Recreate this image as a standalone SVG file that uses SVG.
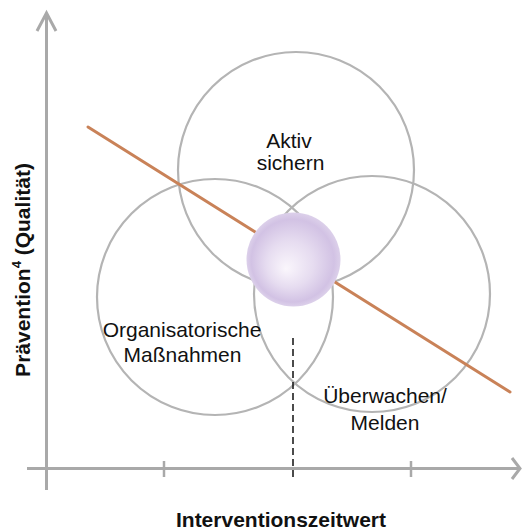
<svg xmlns="http://www.w3.org/2000/svg" width="524" height="530" viewBox="0 0 524 530">
  <defs>
    <radialGradient id="sph" cx="0.5" cy="0.5" r="0.5" fx="0.42" fy="0.6">
      <stop offset="0" stop-color="#faf6fc"/>
      <stop offset="0.5" stop-color="#e6dcf0"/>
      <stop offset="0.88" stop-color="#d2c2e4"/>
      <stop offset="1" stop-color="#dcd0ea"/>
    </radialGradient>
    <style>
      .axis { stroke: #a9a9a9; stroke-width: 3; fill: none; }
      .tick { stroke: #a9a9a9; stroke-width: 2.5; }
      .ring { fill: none; stroke: #b4b4b4; stroke-width: 2.2; }
      .lbl { font-family: "Liberation Sans", Arial, sans-serif; font-size: 21px; fill: #111; text-anchor: middle; }
      .ax { font-family: "Liberation Sans", Arial, sans-serif; font-size: 21px; font-weight: bold; fill: #111; text-anchor: middle; }
    </style>
  </defs>
  <rect width="524" height="530" fill="#ffffff"/>

  <g id="axes">
    <line class="axis" x1="46.5" y1="14" x2="46.5" y2="490"/>
    <polyline class="axis" points="37,31 46.5,13 56,31"/>
    <line class="axis" x1="27" y1="468.5" x2="519" y2="468.5"/>
    <polyline class="axis" points="512,458 520,468.5 512,479"/>
    <line class="tick" x1="164" y1="461" x2="164" y2="477"/>
    <line class="tick" x1="411" y1="461" x2="411" y2="477"/>
  </g>

  <g id="circles">
    <g id="circle-aktiv"><circle class="ring" cx="296" cy="170" r="118"/></g>
    <g id="circle-organisatorisch"><circle class="ring" cx="215" cy="297" r="118"/></g>
    <g id="circle-ueberwachen"><circle class="ring" cx="372" cy="294" r="118"/></g>
  </g>

  <g id="connectors">
    <line id="trend" x1="88" y1="127" x2="510" y2="392" stroke="#c98258" stroke-width="3" stroke-linecap="round"/>
    <line id="dashed" x1="293" y1="338" x2="293" y2="480" stroke="#111" stroke-width="1.5" stroke-dasharray="7,4"/>
  </g>

  <g id="sphere">
    <circle cx="293.5" cy="259.5" r="47" fill="url(#sph)"/>
  </g>

  <g id="label-aktiv">
    <text class="lbl" x="289" y="148">Aktiv</text>
    <text class="lbl" x="290.5" y="170">sichern</text>
  </g>
  <g id="label-organisatorisch">
    <text class="lbl" x="182" y="337">Organisatorische</text>
    <text class="lbl" x="182.5" y="362">Maßnahmen</text>
  </g>
  <g id="label-ueberwachen">
    <text class="lbl" x="385" y="403">Überwachen/</text>
    <text class="lbl" x="385" y="430">Melden</text>
  </g>

  <g id="axis-labels">
    <text class="ax" x="281" y="527">Interventionszeitwert</text>
    <text class="ax" transform="translate(30,270) rotate(-90)" x="0" y="0">Prävention<tspan font-size="13" dy="-9">4</tspan><tspan dy="9">  (Qualität)</tspan></text>
  </g>
</svg>
